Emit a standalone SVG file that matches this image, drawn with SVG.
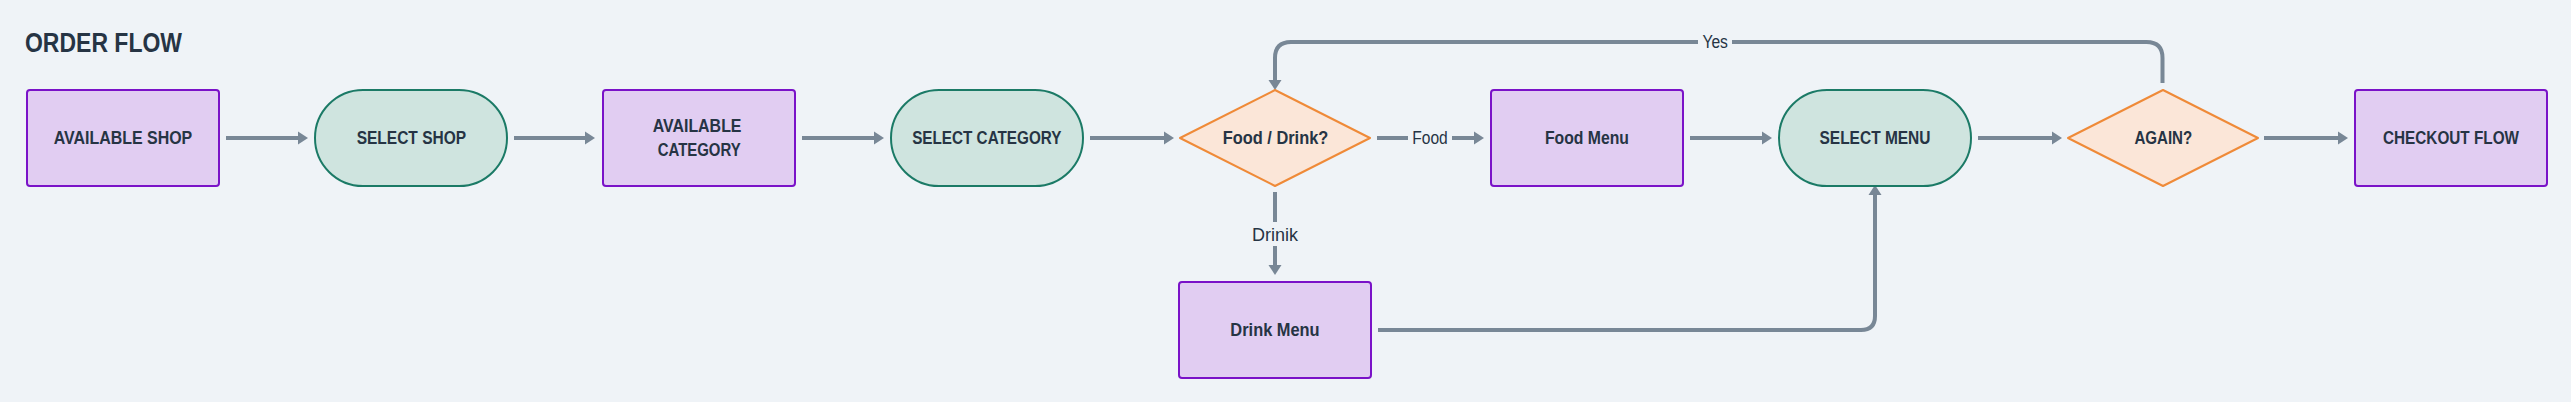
<svg xmlns="http://www.w3.org/2000/svg" width="2571" height="402" viewBox="0 0 2571 402">
<style>
.bg{fill:#eff3f7}
.box{fill:#e1cdf2;stroke:#7a12c8;stroke-width:2}
.pill{fill:#cfe4df;stroke:#1b7a66;stroke-width:2}
.dia{fill:#fbe6d8;stroke:#ef8a38;stroke-width:2;stroke-linejoin:round}
.t{font-family:"Liberation Sans",Arial,sans-serif;font-weight:bold;font-size:18px;fill:#263444;text-anchor:middle}
.lbl{font-family:"Liberation Sans",Arial,sans-serif;font-size:18px;fill:#263444;text-anchor:middle}
.title{font-family:"Liberation Sans",Arial,sans-serif;font-weight:bold;font-size:27px;fill:#263444}
.c{fill:none;stroke:#788796;stroke-width:4;marker-end:url(#ah)}
.lb{fill:#eff3f7}
</style>
<defs>
<marker id="ah" markerUnits="userSpaceOnUse" markerWidth="10" markerHeight="14" refX="4" refY="7" orient="auto">
<path d="M0,0.5 L10,7 L0,13.5 z" fill="#788796"/>
</marker>
</defs>
<rect class="bg" x="0" y="0" width="2571" height="402"/>
<text class="title" x="25" y="52" textLength="157" lengthAdjust="spacingAndGlyphs">ORDER FLOW</text>

<g id="connectors">
<path class="c" d="M226,138 H302"/>
<path class="c" d="M514,138 H589"/>
<path class="c" d="M802,138 H878"/>
<path class="c" d="M1090,138 H1168"/>
<path class="c" d="M1377,138 H1478"/>
<rect class="lb" x="1408" y="126" width="44" height="24"/>
<text class="lbl" x="1430" y="143.5" textLength="35.5" lengthAdjust="spacingAndGlyphs">Food</text>
<path class="c" d="M1690,138 H1766"/>
<path class="c" d="M1978,138 H2056"/>
<path class="c" d="M2264,138 H2342"/>
<path class="c" d="M2162.5,83 V58 Q2162.5,42 2146.5,42 H1291 Q1275,42 1275,58 V84"/>
<rect class="lb" x="1698" y="30" width="34" height="24"/>
<text class="lbl" x="1715.2" y="48.3" textLength="25.5" lengthAdjust="spacingAndGlyphs">Yes</text>
<path class="c" d="M1275,192 V269"/>
<rect class="lb" x="1248" y="222" width="54" height="24"/>
<text class="lbl" x="1275" y="240.7" textLength="46" lengthAdjust="spacingAndGlyphs">Drinik</text>
<path class="c" d="M1378,330 H1861 Q1875,330 1875,316 V191"/>
</g>

<g id="available-shop">
<rect class="box" x="27" y="90" width="192" height="96" rx="3"/>
<text class="t" x="123" y="144.4" textLength="138.5" lengthAdjust="spacingAndGlyphs">AVAILABLE SHOP</text>
</g>
<g id="select-shop">
<rect class="pill" x="315" y="90" width="192" height="96" rx="48"/>
<text class="t" x="411.4" y="144.4" textLength="109.4" lengthAdjust="spacingAndGlyphs">SELECT SHOP</text>
</g>
<g id="available-category">
<rect class="box" x="603" y="90" width="192" height="96" rx="3"/>
<text class="t" x="697.1" y="132" textLength="88.8" lengthAdjust="spacingAndGlyphs">AVAILABLE</text>
<text class="t" x="699.2" y="156" textLength="83" lengthAdjust="spacingAndGlyphs">CATEGORY</text>
</g>
<g id="select-category">
<rect class="pill" x="891" y="90" width="192" height="96" rx="48"/>
<text class="t" x="986.8" y="144.4" textLength="149.2" lengthAdjust="spacingAndGlyphs">SELECT CATEGORY</text>
</g>
<g id="food-drink">
<polygon class="dia" points="1180,138 1275,90 1370,138 1275,186"/>
<text class="t" x="1275.5" y="144.4" textLength="105.6" lengthAdjust="spacingAndGlyphs">Food / Drink?</text>
</g>
<g id="food-menu">
<rect class="box" x="1491" y="90" width="192" height="96" rx="3"/>
<text class="t" x="1587" y="144.4" textLength="84" lengthAdjust="spacingAndGlyphs">Food Menu</text>
</g>
<g id="drink-menu">
<rect class="box" x="1179" y="282" width="192" height="96" rx="3"/>
<text class="t" x="1275" y="336.4" textLength="89.3" lengthAdjust="spacingAndGlyphs">Drink Menu</text>
</g>
<g id="select-menu">
<rect class="pill" x="1779" y="90" width="192" height="96" rx="48"/>
<text class="t" x="1875" y="144.4" textLength="111" lengthAdjust="spacingAndGlyphs">SELECT MENU</text>
</g>
<g id="again">
<polygon class="dia" points="2068,138 2163,90 2258,138 2163,186"/>
<text class="t" x="2163.3" y="144.4" textLength="57.8" lengthAdjust="spacingAndGlyphs">AGAIN?</text>
</g>
<g id="checkout-flow">
<rect class="box" x="2355" y="90" width="192" height="96" rx="3"/>
<text class="t" x="2451" y="144.4" textLength="136" lengthAdjust="spacingAndGlyphs">CHECKOUT FLOW</text>
</g>
</svg>
